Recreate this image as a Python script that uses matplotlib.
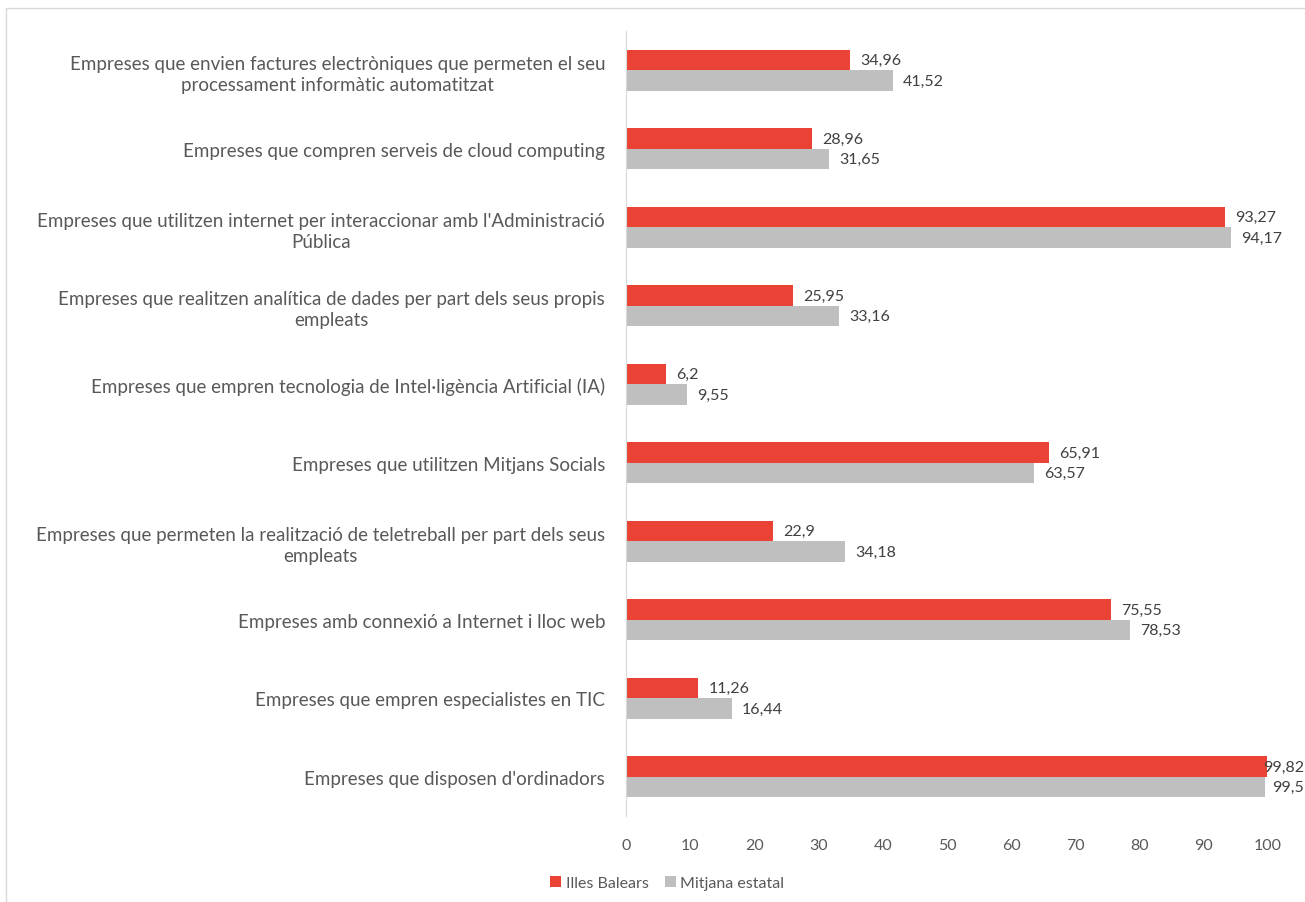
import matplotlib.pyplot as plt
from matplotlib.patches import Rectangle
import numpy as np

plt.rcParams['font.family'] = ['Lato', 'DejaVu Sans']

categories = [
    "Empreses que envien factures electròniques que permeten el seu\nprocessament informàtic automatitzat",
    "Empreses que compren serveis de cloud computing",
    "Empreses que utilitzen internet per interaccionar amb l'Administració\nPública",
    "Empreses que realitzen analítica de dades per part dels seus propis\nempleats",
    "Empreses que empren tecnologia de Intel·ligència Artificial (IA)",
    "Empreses que utilitzen Mitjans Socials",
    "Empreses que permeten la realització de teletreball per part dels seus\nempleats",
    "Empreses amb connexió a Internet i lloc web",
    "Empreses que empren especialistes en TIC",
    "Empreses que disposen d'ordinadors",
]
balears = [34.96, 28.96, 93.27, 25.95, 6.2, 65.91, 22.9, 75.55, 11.26, 99.82]
estatal = [41.52, 31.65, 94.17, 33.16, 9.55, 63.57, 34.18, 78.53, 16.44, 99.5]
xticks = list(range(0, 101, 10))

RED = '#EA4335'
GRAY = '#BFBFBF'
TXT = '#595959'


def fmt(v):
    return ('%g' % v).replace('.', ',')


fig = plt.figure(figsize=(13.05, 9.03), dpi=100)
fig.patches.append(Rectangle((6 / 1305, -0.01), 1.0, 1 - 9 / 903 + 0.01,
                             transform=fig.transFigure, fill=False,
                             edgecolor='#D9D9D9', linewidth=1))
ax = fig.add_axes([626 / 1305, 1 - 817 / 903, (1268 - 626) / 1305, (817 - 32) / 903])

n = len(categories)
y = np.arange(n)[::-1].astype(float)
h = 0.26
ax.barh(y + h / 2, balears, height=h, color=RED, label='Illes Balears')
ax.barh(y - h / 2, estatal, height=h, color=GRAY, label='Mitjana estatal')

labels = []
for yi, v in zip(y, balears):
    labels.append(ax.text(v + 1.6, yi + h / 2, fmt(v), va='center', ha='left',
                          fontsize=11.5, color='#404040'))
for yi, v in zip(y, estatal):
    labels.append(ax.text(v + 1.6, yi - h / 2, fmt(v), va='center', ha='left',
                          fontsize=11.5, color='#404040'))

ax.set_xlim(0, 100)
ax.set_ylim(-0.5, n - 0.5)
ax.set_xticks(xticks)
ax.set_xticklabels([str(t) for t in xticks], fontsize=11.5, color=TXT)
ax.set_yticks(y)
ax.set_yticklabels(categories, fontsize=13.5, color=TXT, multialignment='center',
                   linespacing=1.3)
ax.tick_params(axis='both', length=0)
ax.tick_params(axis='y', pad=15)
ax.tick_params(axis='x', pad=16)
for s in ['top', 'right', 'bottom']:
    ax.spines[s].set_visible(False)
ax.spines['left'].set_color('#D9D9D9')

leg = ax.legend(loc='center', bbox_to_anchor=(0.064, -0.085), ncol=2, frameon=False,
                fontsize=11.5, handlelength=0.7, handleheight=0.7, handletextpad=0.3,
                columnspacing=1.0)
for t in leg.get_texts():
    t.set_color(TXT)

# keep value labels inside the figure, as the original chart does
fig.canvas.draw()
r = fig.canvas.get_renderer()
W = fig.bbox.width
for t in labels:
    bb = t.get_window_extent(r)
    if bb.x1 > W - 1:
        dx = bb.x1 - (W - 1)
        x_disp = ax.transData.transform((t.get_position()[0], 0))[0] - dx
        t.set_x(ax.transData.inverted().transform((x_disp, 0))[0])

fig.savefig('out.png', dpi=100)
